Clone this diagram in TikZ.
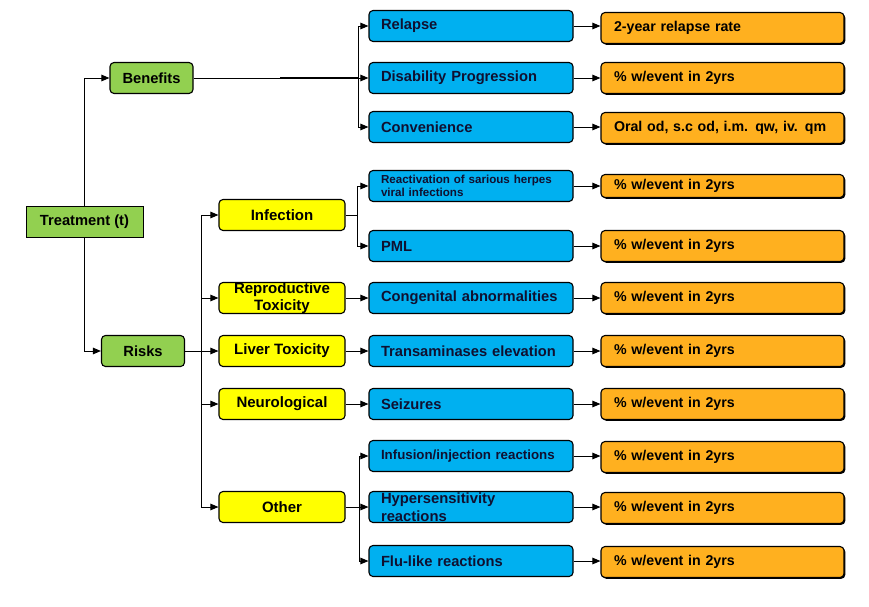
\documentclass[tikz,border=0pt]{standalone}
\usepackage{fontspec}
\setmainfont{Liberation Sans}
\usetikzlibrary{arrows.meta,shadows}
\definecolor{gr}{HTML}{92D050}
\definecolor{bl}{HTML}{00B0F0}
\definecolor{ye}{HTML}{FFFF00}
\definecolor{or}{HTML}{FFB01F}
\definecolor{navy}{HTML}{101030}
\tikzset{
  box/.style={draw=black, line width=1.1pt, rounded corners=4pt, font=\bfseries\fontsize{14.7}{16.5}\selectfont, inner ysep=0pt, minimum height=31pt},
  greenbox/.style={box, fill=gr, minimum width=83pt},
  yellowbox/.style={box, fill=ye, minimum width=126pt, align=center, font=\bfseries\fontsize{15}{17}\selectfont},
  bluebox/.style={box, fill=bl, inner xsep=12pt, text width=180pt, align=left, text=navy},
  orbox/.style={box, fill=or, inner xsep=13pt, text width=217pt, align=left, font=\bfseries\fontsize{14.2}{16}\selectfont,
     drop shadow={shadow xshift=1.3pt, shadow yshift=-1.3pt, fill=black, opacity=1}},
  arr/.style={line width=1pt, -{Triangle[length=8pt,width=6.5pt]}},
  ln/.style={line width=1pt}
}
\begin{document}
\begin{tikzpicture}[x=1pt,y=-1pt]
\useasboundingbox (0,0) rectangle (869,606);
% green
\node[box, fill=gr, rounded corners=0pt, line width=0.9pt, minimum width=117pt] (trt) at (84.5,222) {Treatment (t)};
\node[greenbox] (ben) at (151.5,78) {Benefits};
\node[greenbox] (risk) at (143,351) {Risks};
% yellow
\node[yellowbox] (inf) at (282,215) {Infection};
\node[yellowbox] (rep) at (282,298) {Reproductive\\Toxicity};
\node[yellowbox] (liv) at (282,351) {Liver Toxicity};
\node[yellowbox] (neu) at (282,404) {Neurological};
\node[yellowbox] (oth) at (282,507) {Other};
% blue
\node[bluebox] (rel) at (471,26) {Relapse};
\node[bluebox] (dis) at (471,78) {Disability Progression};
\node[bluebox] (con) at (471,127) {Convenience};
\node[bluebox, font=\bfseries\fontsize{11.6}{12.5}\selectfont] (rea) at (471,186) {Reactivation of sarious herpes\\viral infections};
\node[bluebox] (pml) at (471,246) {PML};
\node[bluebox] (cga) at (471,298) {Congenital abnormalities};
\node[bluebox] (tra) at (471,351) {Transaminases elevation};
\node[bluebox] (sei) at (471,404) {Seizures};
\node[bluebox, font=\bfseries\fontsize{13.3}{15}\selectfont] (ifr) at (471,456) {Infusion/injection reactions};
\node[bluebox, font=\bfseries\fontsize{14.8}{18}\selectfont] (hyp) at (471,507) {Hypersensitivity\\reactions};
\node[bluebox] (flu) at (471,561) {Flu-like reactions};
% orange
\node[orbox] (o1) at (722.5,28) {2-year relapse rate};
\node[orbox] (o2) at (722.5,78) {\% w/event in 2yrs};
\node[orbox] (o3) at (722.5,128) {Oral od, s.c od, i.m. qw, iv. qm};
\node[orbox, minimum height=23pt] (o4) at (722.5,186) {\% w/event in 2yrs};
\node[orbox] (o5) at (722.5,246) {\% w/event in 2yrs};
\node[orbox] (o6) at (722.5,298) {\% w/event in 2yrs};
\node[orbox] (o7) at (722.5,351) {\% w/event in 2yrs};
\node[orbox] (o8) at (722.5,404) {\% w/event in 2yrs};
\node[orbox] (o9) at (722.5,457) {\% w/event in 2yrs};
\node[orbox] (o10) at (722.5,508) {\% w/event in 2yrs};
\node[orbox] (o11) at (722.5,562) {\% w/event in 2yrs};
% junctions
\coordinate (bt) at (358,78);
\coordinate (bth) at (280,78);
\coordinate (rt) at (201,351);
\coordinate (it) at (357,215);
\coordinate (ot) at (359,507);
% treatment
\draw[arr] (trt.north) |- (ben.west);
\draw[arr] (trt.south) |- (risk.west);
% benefits
\draw[ln] (ben.east) -- (bt);
\draw[line width=2.2pt] (bth) -- (bt);
\draw[arr] (bt) |- (rel.west);
\draw[arr] (bt) -- (dis.west);
\draw[arr] (bt) |- (con.west);
% risks
\draw[ln] (risk.east) -- (rt);
\draw[arr] (rt) |- (inf.west);
\draw[arr] (rt) |- (rep.west);
\draw[arr] (rt) -- (liv.west);
\draw[arr] (rt) |- (neu.west);
\draw[arr] (rt) |- (oth.west);
% infection
\draw[ln] (inf.east) -- (it);
\draw[arr] (it) |- (rea.west);
\draw[arr] (it) |- (pml.west);
% other
\draw[ln] (oth.east) -- (ot);
\draw[arr] (ot) |- (ifr.west);
\draw[arr] (ot) -- (hyp.west);
\draw[arr] (ot) |- (flu.west);
% singles
\draw[arr] (rep) -- (cga);
\draw[arr] (liv) -- (tra);
\draw[arr] (neu) -- (sei);
% blue to orange
\draw[arr] (rel.east) -- (rel.east -| o1.west);
\draw[arr] (dis) -- (o2);
\draw[arr] (con.east) -- (con.east -| o3.west);
\draw[arr] (rea) -- (o4);
\draw[arr] (pml) -- (o5);
\draw[arr] (cga) -- (o6);
\draw[arr] (tra) -- (o7);
\draw[arr] (sei) -- (o8);
\draw[arr] (ifr.east) -- (ifr.east -| o9.west);
\draw[arr] (hyp.east) -- (hyp.east -| o10.west);
\draw[arr] (flu.east) -- (flu.east -| o11.west);
\end{tikzpicture}
\end{document}
